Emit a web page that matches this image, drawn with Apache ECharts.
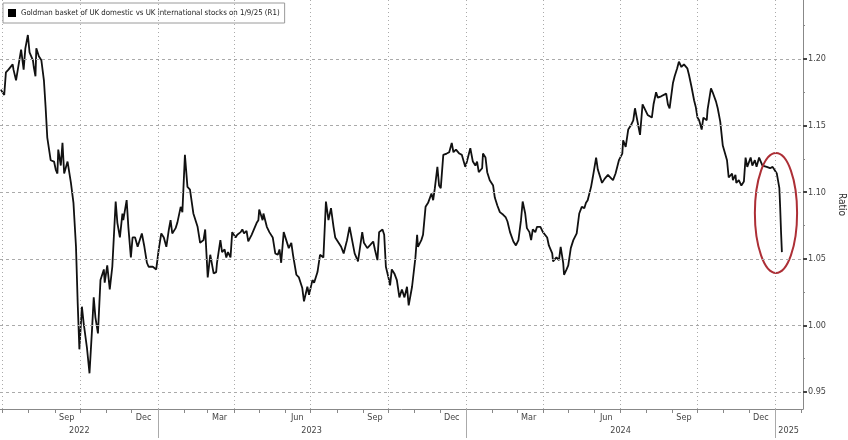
<!DOCTYPE html>
<html><head><meta charset="utf-8">
<script src="https://cdn.jsdelivr.net/npm/echarts@6/dist/echarts.min.js"></script>
<style>html,body{margin:0;padding:0;background:#fff}#c{width:848px;height:440px}</style>
</head><body><div id="c"></div>
<script>
const seriesName = 'Goldman basket of UK domestic vs UK international stocks on 1/9/25 (R1)';
const axisName = 'Ratio';

const dates = [
'2022-06-29','2022-07-03','2022-07-05','2022-07-08','2022-07-13','2022-07-14','2022-07-17','2022-07-19','2022-07-23','2022-07-26','2022-07-28','2022-07-31',
'2022-08-02','2022-08-06','2022-08-07','2022-08-09','2022-08-10','2022-08-13','2022-08-16','2022-08-19','2022-08-21','2022-08-23','2022-08-27','2022-08-31',
'2022-09-02','2022-09-04','2022-09-05','2022-09-08','2022-09-10','2022-09-12','2022-09-16','2022-09-17','2022-09-20','2022-09-23','2022-09-26','2022-09-28','2022-09-30',
'2022-10-03','2022-10-05','2022-10-09','2022-10-10','2022-10-12','2022-10-15','2022-10-17','2022-10-19','2022-10-22','2022-10-25','2022-10-29','2022-10-30',
'2022-11-02','2022-11-05','2022-11-08','2022-11-12','2022-11-14','2022-11-17','2022-11-20','2022-11-21','2022-11-25','2022-11-27','2022-11-30',
'2022-12-02','2022-12-05','2022-12-08','2022-12-10','2022-12-13','2022-12-16','2022-12-19','2022-12-21','2022-12-26','2022-12-28','2022-12-30',
'2023-01-02','2023-01-05','2023-01-08','2023-01-11','2023-01-14','2023-01-16','2023-01-18','2023-01-22','2023-01-24','2023-01-28','2023-01-30',
'2023-02-02','2023-02-05','2023-02-08','2023-02-12','2023-02-17','2023-02-20','2023-02-24','2023-02-26',
'2023-03-01','2023-03-04','2023-03-08','2023-03-11','2023-03-12','2023-03-16','2023-03-18','2023-03-21','2023-03-23','2023-03-25','2023-03-28','2023-03-30',
'2023-04-03','2023-04-05','2023-04-09','2023-04-11','2023-04-13','2023-04-16','2023-04-18','2023-04-22','2023-04-24','2023-04-28','2023-04-30',
'2023-05-01','2023-05-05','2023-05-06','2023-05-10','2023-05-13','2023-05-17','2023-05-20','2023-05-23','2023-05-25','2023-05-27','2023-05-30',
'2023-06-02','2023-06-05','2023-06-08','2023-06-10','2023-06-14','2023-06-17','2023-06-21','2023-06-23','2023-06-27','2023-06-29',
'2023-07-03','2023-07-05','2023-07-09','2023-07-12','2023-07-16','2023-07-19','2023-07-22','2023-07-25','2023-07-28','2023-07-30',
'2023-08-03','2023-08-06','2023-08-09','2023-08-11','2023-08-13','2023-08-16','2023-08-19','2023-08-22','2023-08-24','2023-08-26','2023-08-31',
'2023-09-02','2023-09-06','2023-09-09','2023-09-13','2023-09-15','2023-09-18','2023-09-20','2023-09-24','2023-09-26','2023-09-28',
'2023-10-01','2023-10-03','2023-10-05','2023-10-08','2023-10-11','2023-10-14','2023-10-17','2023-10-20','2023-10-23','2023-10-25','2023-10-29',
'2023-11-02','2023-11-04','2023-11-05','2023-11-09','2023-11-11','2023-11-14','2023-11-17','2023-11-21','2023-11-23','2023-11-25','2023-11-28','2023-11-30',
'2023-12-02','2023-12-05','2023-12-09','2023-12-12','2023-12-15','2023-12-17','2023-12-20','2023-12-24','2023-12-27','2023-12-31',
'2024-01-02','2024-01-06','2024-01-09','2024-01-12','2024-01-14','2024-01-16','2024-01-20','2024-01-21','2024-01-24','2024-01-26','2024-01-29',
'2024-02-02','2024-02-04','2024-02-07','2024-02-10','2024-02-14','2024-02-17','2024-02-19','2024-02-22','2024-02-26','2024-02-29',
'2024-03-03','2024-03-06','2024-03-08','2024-03-11','2024-03-13','2024-03-16','2024-03-18','2024-03-20','2024-03-23','2024-03-25','2024-03-29',
'2024-04-01','2024-04-03','2024-04-06','2024-04-08','2024-04-12','2024-04-13','2024-04-17','2024-04-20','2024-04-22','2024-04-25','2024-04-26','2024-04-29',
'2024-05-01','2024-05-04','2024-05-07','2024-05-09','2024-05-11','2024-05-14','2024-05-17','2024-05-20','2024-05-22','2024-05-24','2024-05-28','2024-05-30',
'2024-06-03','2024-06-05','2024-06-10','2024-06-13','2024-06-17','2024-06-20','2024-06-23','2024-06-26','2024-06-30',
'2024-07-04','2024-07-05','2024-07-08','2024-07-11','2024-07-14','2024-07-17','2024-07-19','2024-07-21','2024-07-25','2024-07-28','2024-07-31',
'2024-08-03','2024-08-08','2024-08-10','2024-08-13','2024-08-15','2024-08-19','2024-08-21','2024-08-25','2024-08-27','2024-08-29',
'2024-09-02','2024-09-04','2024-09-07','2024-09-09','2024-09-12','2024-09-15','2024-09-19','2024-09-21','2024-09-24','2024-09-27','2024-09-29',
'2024-10-01','2024-10-03','2024-10-06','2024-10-08','2024-10-12','2024-10-13','2024-10-17','2024-10-19','2024-10-23','2024-10-25','2024-10-28','2024-10-31',
'2024-11-02','2024-11-05','2024-11-07','2024-11-11','2024-11-12','2024-11-15','2024-11-16','2024-11-19','2024-11-22','2024-11-25','2024-11-27','2024-11-29',
'2024-12-03','2024-12-05','2024-12-08','2024-12-10','2024-12-13','2024-12-17','2024-12-22','2024-12-26','2024-12-29','2024-12-31',
'2025-01-03','2025-01-06','2025-01-07','2025-01-08','2025-01-09'
];
const values = [
1.177,1.173,1.190,1.192,1.196,1.192,1.184,1.184,1.207,1.192,1.208,1.218,
1.205,1.199,1.194,1.187,1.208,1.202,1.199,1.184,1.164,1.141,1.124,1.123,
1.117,1.114,1.132,1.120,1.137,1.114,1.123,1.119,1.107,1.092,1.059,1.017,0.982,
1.014,1.002,0.983,0.982,0.964,0.997,1.021,1.006,0.994,1.034,1.042,1.032,
1.045,1.027,1.044,1.093,1.077,1.066,1.084,1.079,1.094,1.074,1.051,
1.066,1.066,1.059,1.060,1.069,1.059,1.047,1.044,1.044,1.045,1.042,
1.057,1.069,1.066,1.059,1.072,1.079,1.069,1.073,1.077,1.089,1.085,
1.128,1.104,1.102,1.084,1.074,1.062,1.064,1.072,
1.036,1.053,1.039,1.040,1.047,1.064,1.055,1.057,1.051,1.055,1.051,1.070,
1.066,1.068,1.070,1.072,1.069,1.071,1.063,1.068,1.068,1.077,1.079,
1.087,1.079,1.084,1.074,1.070,1.066,1.054,1.053,1.057,1.047,1.070,
1.064,1.058,1.062,1.053,1.038,1.036,1.028,1.018,1.029,1.023,
1.034,1.032,1.040,1.053,1.051,1.093,1.079,1.088,1.074,1.066,
1.062,1.059,1.054,1.059,1.064,1.074,1.064,1.054,1.053,1.048,1.070,
1.062,1.058,1.060,1.063,1.057,1.049,1.070,1.072,1.068,1.044,
1.036,1.030,1.042,1.039,1.034,1.021,1.027,1.021,1.029,1.015,1.029,
1.051,1.068,1.059,1.064,1.068,1.089,1.092,1.099,1.094,1.103,1.119,1.105,
1.103,1.128,1.129,1.130,1.137,1.130,1.132,1.129,1.128,1.119,
1.123,1.133,1.123,1.120,1.123,1.115,1.118,1.129,1.126,1.115,1.109,
1.105,1.096,1.090,1.085,1.083,1.081,1.078,1.070,1.063,1.060,
1.064,1.079,1.093,1.084,1.073,1.070,1.064,1.072,1.070,1.074,1.074,
1.070,1.070,1.066,1.060,1.054,1.048,1.051,1.049,1.059,1.047,1.038,1.042,
1.045,1.058,1.064,1.064,1.069,1.084,1.089,1.088,1.092,1.094,1.104,1.111,
1.126,1.117,1.107,1.110,1.113,1.111,1.109,1.114,1.124,
1.129,1.139,1.134,1.147,1.150,1.154,1.163,1.162,1.143,1.166,1.162,
1.158,1.156,1.166,1.175,1.171,1.172,1.171,1.174,1.166,1.163,
1.182,1.187,1.193,1.198,1.194,1.196,1.193,1.188,1.179,1.169,1.164,
1.156,1.154,1.147,1.156,1.154,1.162,1.178,1.175,1.168,1.163,1.153,1.135,
1.134,1.124,1.111,1.114,1.109,1.113,1.107,1.109,1.105,1.108,1.126,1.119,
1.126,1.120,1.124,1.119,1.126,1.120,1.119,1.118,1.119,1.117,
1.114,1.103,1.088,1.070,1.055
];

const xMin = '2022-06-28';
const xMax = '2025-02-03';
const yMin = 0.9372;
const yMax = 1.2443;
const yTicks = [0.95, 1.00, 1.05, 1.10, 1.15, 1.20];
const yMinorTicks = [0.975, 1.025, 1.075, 1.125, 1.175, 1.225];
const monthNames = ['Jan','Feb','Mar','Apr','May','Jun','Jul','Aug','Sep','Oct','Nov','Dec'];
const monthLabelDates = ['2022-09-15','2022-12-15','2023-03-15','2023-06-15','2023-09-15','2023-12-15','2024-03-15','2024-06-15','2024-09-15','2024-12-15'];
const monthTickDates = [
'2022-07-01','2022-08-01','2022-09-01','2022-10-01','2022-11-01','2022-12-01',
'2023-01-01','2023-02-01','2023-03-01','2023-04-01','2023-05-01','2023-06-01','2023-07-01','2023-08-01','2023-09-01','2023-10-01','2023-11-01','2023-12-01',
'2024-01-01','2024-02-01','2024-03-01','2024-04-01','2024-05-01','2024-06-01','2024-07-01','2024-08-01','2024-09-01','2024-10-01','2024-11-01','2024-12-01',
'2025-01-01','2025-02-01'];
const quarterDates = ['2022-07-01','2022-10-01','2023-01-01','2023-04-01','2023-07-01','2023-10-01','2024-01-01','2024-04-01','2024-07-01','2024-10-01','2025-01-01'];
const yearLabelDates = ['2022-09-30','2023-07-02','2024-07-02','2025-01-17'];
const yearLabels = ['2022','2023','2024','2025'];
const yearBreaks = ['2023-01-01','2024-01-01','2025-01-01'];
const highlightBox = [['2024-12-08', 1.1294], ['2025-01-27', 1.0393]];

const ts = d => new Date(d.replace(/-/g, '/')).getTime();
const FONT = "'Liberation Sans Narrow','DejaVu Sans Condensed','Liberation Sans',sans-serif";
const yearLabelTs = yearLabelDates.map(ts);

const chart = echarts.init(document.getElementById('c'), null, {renderer: 'canvas'});
chart.setOption({
  animation: false,
  backgroundColor: '#fff',
  textStyle: {fontFamily: FONT},
  grid: {left: 0, right: 45, top: 0, bottom: 31, containLabel: false, outerBoundsMode: 'none'},
  legend: {
    data: [seriesName], left: 3, top: 3, icon: 'rect', itemWidth: 8, itemHeight: 8, itemGap: 4,
    padding: [6, 5, 6, 5], borderColor: '#9a9a9a', borderWidth: 1, backgroundColor: '#fff',
    textStyle: {fontSize: 7.8, color: '#222', fontFamily: FONT}, selectedMode: false
  },
  xAxis: [{
    type: 'value', min: ts(xMin), max: ts(xMax), position: 'bottom',
    axisLine: {show: true, lineStyle: {color: '#888', width: 1}},
    axisTick: {show: true, customValues: monthTickDates.map(ts), length: 4, lineStyle: {color: '#888'}},
    axisLabel: {customValues: monthLabelDates.map(ts), margin: 4, fontSize: 9, color: '#444', fontFamily: FONT,
      formatter: v => monthNames[new Date(v).getMonth()]},
    splitLine: {show: false}
  }, {
    type: 'value', min: ts(xMin), max: ts(xMax), position: 'bottom',
    axisLine: {show: false},
    axisTick: {show: true, customValues: yearBreaks.map(ts), length: 29, lineStyle: {color: '#aaa'}},
    axisLabel: {customValues: yearLabelTs, margin: 17, fontSize: 9, color: '#444', fontFamily: FONT,
      formatter: v => { const i = yearLabelTs.indexOf(v); return i >= 0 ? yearLabels[i] : String(new Date(v).getFullYear()); }},
    splitLine: {show: false}
  }],
  yAxis: [{
    type: 'value', position: 'right', min: yMin, max: yMax,
    name: axisName, nameLocation: 'middle', nameRotate: -90, nameGap: 31,
    nameTextStyle: {fontSize: 10, color: '#333', fontFamily: FONT},
    axisLine: {show: true, lineStyle: {color: '#888'}},
    axisTick: {show: true, customValues: yTicks, length: 4, lineStyle: {color: '#444', width: 2}},
    axisLabel: {customValues: yTicks, margin: 5, fontSize: 9, color: '#444', fontFamily: FONT, formatter: v => v.toFixed(2)},
    splitLine: {show: false}
  }, {
    type: 'value', position: 'right', min: yMin, max: yMax,
    axisLine: {show: false},
    axisTick: {show: true, customValues: yMinorTicks, length: 2, lineStyle: {color: '#888'}},
    axisLabel: {show: false},
    splitLine: {show: false}
  }],
  series: [{
    type: 'line', name: 'grid', data: [], z: 1, silent: true,
    markLine: {
      silent: true, symbol: 'none', label: {show: false}, animation: false,
      data: quarterDates.map(d => ({xAxis: ts(d), lineStyle: {type: [1, 3], color: '#aaa', width: 1}}))
        .concat(yTicks.map(v => ({yAxis: v, lineStyle: {type: [3, 3], color: '#aaa', width: 1}})))
    }
  }, {
    type: 'line', name: seriesName, z: 3,
    data: dates.map((d, i) => [ts(d), values[i]]),
    showSymbol: false, symbol: 'none', color: '#000',
    lineStyle: {color: '#111', width: 1.8}
  }, {
    type: 'custom', name: 'highlight', z: 4, silent: true, clip: false,
    dimensions: ['x1', 'y1', 'x2', 'y2'],
    encode: {x: [0, 2], y: [1, 3]},
    data: [[ts(highlightBox[0][0]), highlightBox[0][1], ts(highlightBox[1][0]), highlightBox[1][1]]],
    renderItem: (params, api) => {
      const p1 = api.coord([api.value(0), api.value(1)]);
      const p2 = api.coord([api.value(2), api.value(3)]);
      return {
        type: 'ellipse',
        shape: {cx: (p1[0] + p2[0]) / 2, cy: (p1[1] + p2[1]) / 2, rx: Math.abs(p2[0] - p1[0]) / 2, ry: Math.abs(p2[1] - p1[1]) / 2},
        style: {fill: 'none', stroke: '#ad2f36', lineWidth: 2}
      };
    }
  }]
});
</script></body></html>
